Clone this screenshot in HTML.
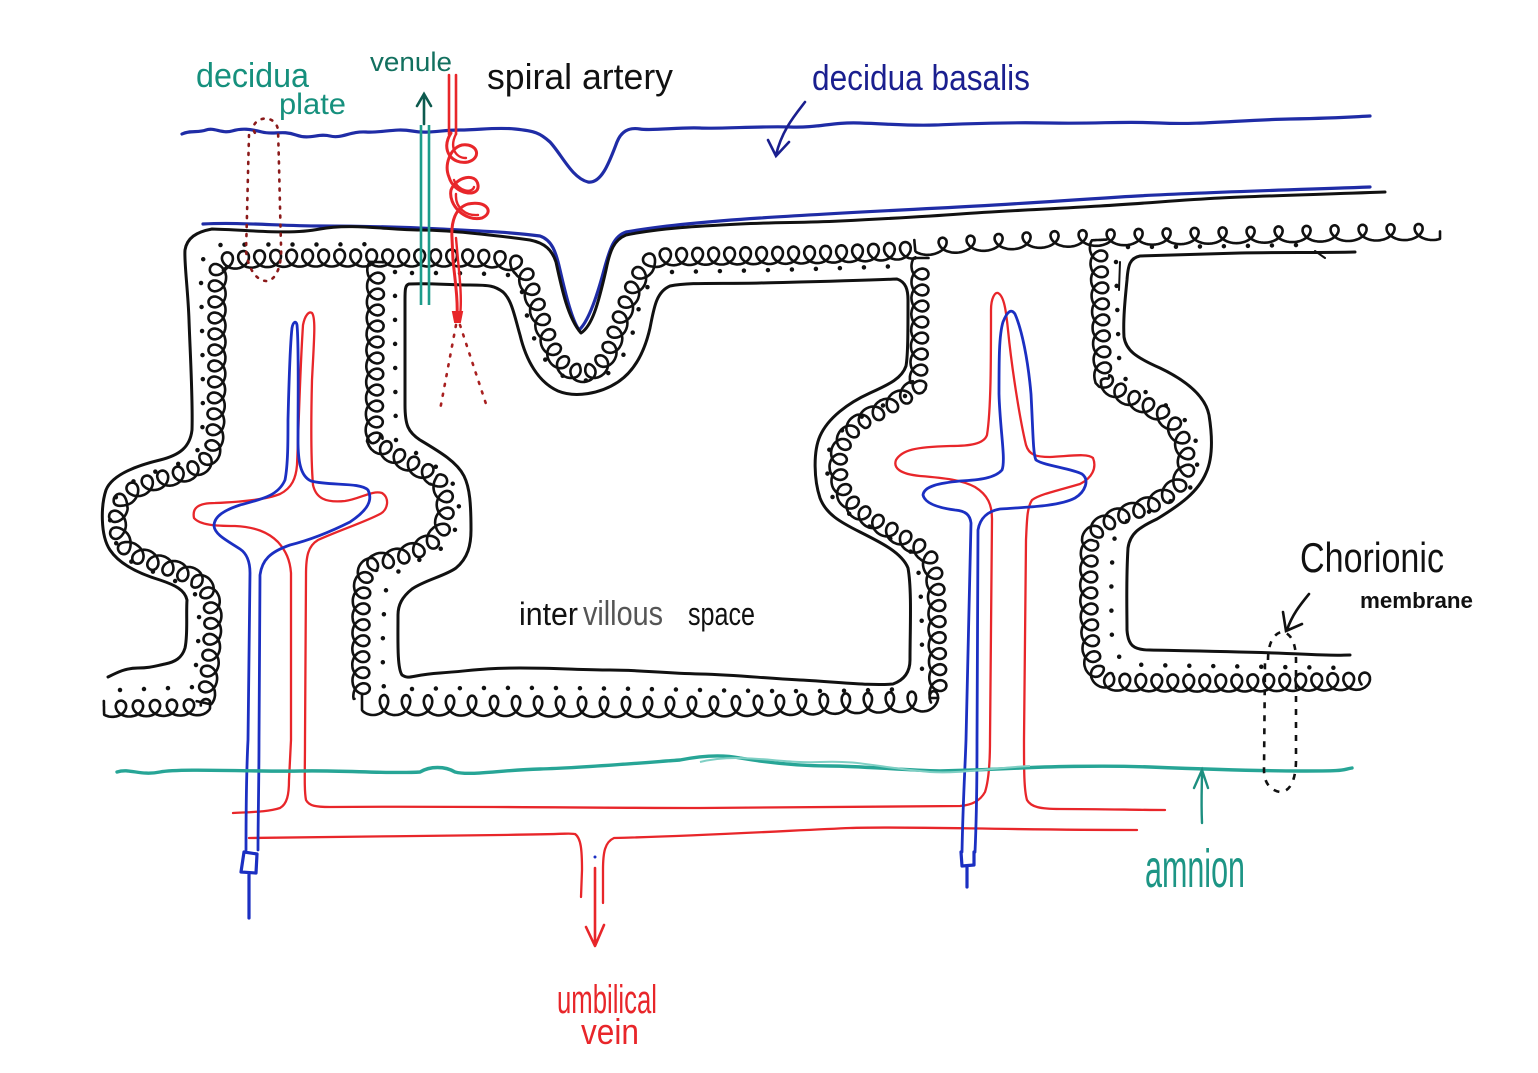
<!DOCTYPE html>
<html><head><meta charset="utf-8">
<style>
html,body{margin:0;padding:0;background:#fff;overflow:hidden}
svg{display:block}
.k{fill:none;stroke:#111;stroke-width:3;stroke-linecap:round;stroke-linejoin:round}
.b{fill:none;stroke:#1f2ca6;stroke-width:3.2;stroke-linecap:round;stroke-linejoin:round}
.r{fill:none;stroke:#e8262a;stroke-width:2.3;stroke-linecap:round;stroke-linejoin:round}
.v{fill:none;stroke:#1b2fc2;stroke-width:2.8;stroke-linecap:round;stroke-linejoin:round}
.dt{fill:none;stroke:#111;stroke-width:4.5;stroke-linecap:round;stroke-dasharray:0 24}
.lb{fill:none;stroke:#333;stroke-width:7;stroke-dasharray:4 5}
.lp{fill:none;stroke:#111;stroke-width:2.6;stroke-linejoin:round;stroke-linecap:round}
text{font-family:"Liberation Sans Narrow","Liberation Sans",sans-serif}
</style></head>
<body>
<svg id="s" width="1538" height="1073" viewBox="0 0 1538 1073" xmlns="http://www.w3.org/2000/svg">
<rect width="1538" height="1073" fill="#fff"/>

<!-- decidua basalis top line -->
<path class="b" d="M182,134 C190,130 198,133 206,130 S222,134 232,131 S250,129 262,132 S282,130 296,135 S318,133 330,136 S350,131 366,132 S395,128 412,131 S440,130 460,130 S495,127 515,129 S540,133 550,142 C562,155 572,178 588,182 C602,184 610,160 617,142 C621,132 628,127 640,129 S680,127 700,128 S760,126 790,127 S830,122 860,123 S910,126 935,125 S1000,122 1050,123 S1120,121 1160,123 S1240,120 1290,119 S1350,117 1370,116"/>
<!-- lower blue line -->
<path class="b" d="M203,224 C240,222 280,226 320,226 S400,227 440,229 S510,232 540,236 C552,240 556,252 560,270 C566,296 572,320 579,330 C588,322 596,300 604,270 C610,248 614,236 626,232 C660,226 700,222 760,218 S880,211 940,208 S1060,201 1120,197 S1260,191 1370,187"/>

<!-- outer black line -->
<path class="k" d="M108,677 C118,672 126,668 138,668 S155,666 165,664 S182,658 185,648 C188,635 186,615 187,600 C185,590 175,585 160,580 C140,574 120,565 110,550 C100,535 101,505 106,490 C112,475 135,466 160,460 C180,455 190,447 192,430 C193,400 190,350 189,320 C188,290 184,262 185,250 C187,238 196,232 212,229 C250,230 290,235 320,229 S390,230 420,230 S500,236 530,240 C545,243 552,250 556,262 C562,290 568,318 581,333 C592,326 598,305 606,270 C610,250 614,240 626,235 C660,228 700,226 740,224 S800,223 840,221 S920,217 960,214 S1050,209 1100,206 S1180,200 1220,198 S1300,195 1385,192"/>

<!-- intervillous space 1 -->
<path class="k" d="M409,284 C430,283 450,285 470,285 S495,286 503,292 C512,300 515,318 520,335 C526,360 538,382 558,391 C575,398 600,394 618,382 C636,370 645,350 650,328 C654,308 656,292 670,286 C690,282 720,284 760,283 S850,281 897,279 C906,282 908,290 908,300 C908,330 908,355 906,366 C902,378 890,384 870,393 C848,403 828,418 820,436 C813,452 814,480 820,498 C826,514 840,522 860,532 C882,543 902,553 908,568 C912,590 910,630 910,660 C910,672 904,680 893,684 C870,686 840,682 800,680 S740,675 700,674 S640,670 610,670 S560,668 520,668 S470,671 440,673 S410,680 402,675 C397,668 398,640 398,615 C398,605 402,597 412,589 C425,580 445,576 456,568 C468,558 471,545 471,530 C471,505 470,488 464,476 C457,462 440,452 420,440 C408,432 405,425 405,405 C405,370 405,330 405,300 C405,290 405,285 409,284 Z"/>

<!-- intervillous space 2 -->
<path class="k" d="M1355,252 C1320,253 1280,252 1240,253 S1170,255 1140,256 C1130,258 1128,265 1127,280 C1125,300 1123,320 1124,337 C1126,350 1135,357 1160,368 C1185,380 1205,395 1209,415 C1213,440 1212,460 1206,473 C1198,492 1180,505 1157,519 C1140,527 1130,533 1128,548 C1126,580 1127,610 1127,630 C1128,645 1133,650 1150,650 C1200,651 1260,652 1300,654 S1340,655 1350,655"/>
<path class="k" d="M1315,251 L1325,258 M1120,262 L1119,290" style="stroke-width:2"/>

<!-- loop bases -->
<g id="lbases">
<path class="lb" d="M205,703 C208,690 212,650 213,620 C213,600 210,588 195,578 C175,568 150,562 132,552 C118,542 114,525 120,505 C126,490 150,482 175,476 C198,470 210,462 214,445 C217,420 217,360 217,320 C217,290 217,270 220,262 C240,258 300,258 340,258 S420,258 460,258 S510,260 522,268 C530,285 536,305 545,330 C552,352 560,368 578,373 C594,376 604,365 612,345 C620,320 628,298 640,275 C646,264 652,258 665,257 C700,256 750,256 800,255 S880,252 915,250"/>
<path class="lb" d="M376,262 C375,300 375,380 374,440 C388,455 418,466 436,478 C448,492 448,520 438,535 C423,550 398,558 373,563 C362,570 361,590 361,620 C361,650 360,680 362,698"/>
<path class="lb" d="M362,705 C450,705 550,707 650,707 S850,703 940,701"/>
<path class="lb" d="M104,709 L210,707"/>
<path class="lb" d="M920,258 C920,300 920,350 918,385 C905,398 880,410 860,422 C844,435 838,450 838,465 C838,485 845,500 860,512 C880,526 905,538 925,552 C935,565 937,590 937,620 C937,650 938,680 938,698"/>
<path class="lb" d="M1098,240 C1100,280 1101,340 1103,380 C1115,392 1140,402 1162,414 C1180,428 1188,450 1186,468 C1182,488 1160,502 1136,510 C1115,517 1095,525 1090,540 C1088,570 1088,620 1092,660 C1094,672 1100,680 1112,682 C1180,684 1280,683 1370,681"/>
<path class="lb" d="M915,248 C960,244 1010,241 1060,239 S1200,236 1300,234 S1400,232 1440,232"/>
</g>
<g id="loops" class="lp"></g>

<!-- dots -->
<path class="dt" d="M196,665 C199,640 200,610 198,598 C190,585 160,574 140,567 C122,558 110,540 110,515 C112,492 130,480 160,470 C185,463 200,455 202,438 C204,400 202,330 201,280 C201,258 205,247 220,245 C260,244 320,245 380,244"/>
<path class="dt" d="M412,273 C440,273 480,273 508,275"/>
<path class="dt" d="M522,292 C527,320 534,345 547,362 C560,380 580,384 600,378 C618,370 628,350 635,325 C640,300 645,285 660,273"/>
<path class="dt" d="M672,272 C720,271 800,270 900,266"/>
<path class="dt" d="M905,396 C880,406 850,420 832,440 C825,460 826,485 834,500 C850,520 890,535 915,555 C922,580 922,620 922,670"/>
<path class="dt" d="M395,272 C395,320 395,380 396,440 C412,452 442,465 457,490 C462,515 457,535 442,548 C422,560 397,568 387,582 C382,620 382,660 384,690"/>
<path class="dt" d="M412,689 C500,687 600,688 700,690 S850,691 905,689"/>
<path class="dt" d="M1116,262 C1117,300 1118,340 1120,375 C1140,390 1170,405 1190,425 C1200,445 1200,470 1190,488 C1170,505 1140,515 1118,525 C1110,545 1111,600 1112,640 C1114,658 1125,664 1145,665 C1200,666 1280,667 1350,668"/>
<path class="dt" d="M1128,247 C1180,247 1240,246 1300,245"/>
<path class="dt" d="M120,690 L196,687"/>

<!-- red vessels -->
<path class="r" d="M233,813 C250,812 268,812 280,808 C287,804 289,795 289,780 L291,740 C291,680 291,600 291,573 C290,560 286,551 278,542 C268,532 255,527 235,526 C215,526 200,525 194,518 C192,508 198,503 215,503 C240,502 265,500 280,494 C292,488 296,478 297,465 C299,420 300,370 303,325 C305,315 309,311 312,313 C316,318 314,340 312,380 C311,420 311,460 313,485 C316,498 325,503 345,501 C360,499 372,490 382,493 C390,498 388,510 380,514 C365,522 340,530 318,540 C308,546 306,556 306,575 L305,740 C305,770 304,790 306,800 C309,806 316,807 330,807 C450,806 600,808 700,808 S900,807 960,806 C972,805 980,801 985,792 C989,780 990,760 990,740 L992,519 C992,505 988,495 975,487 C962,480 945,478 920,476 C900,474 893,468 896,460 C902,450 915,447 950,446 C970,446 984,444 987,435 C991,410 991,360 991,310 C991,298 995,292 998,293 C1004,296 1006,310 1008,330 C1012,370 1020,420 1026,445 C1029,455 1036,457 1050,457 C1070,456 1088,453 1093,458 C1097,468 1092,478 1080,484 C1060,490 1040,494 1032,500 C1027,508 1027,519 1026,540 L1024,740 C1024,770 1024,790 1027,800 C1031,807 1040,809 1060,809 C1100,809 1140,810 1165,810"/>
<path class="r" d="M249,838 C320,837 420,836 500,835 S565,833 575,834 C581,838 582,850 582,870 L581,897 M603,903 L603,870 C603,852 605,842 614,838 C700,836 800,830 850,828 S1000,830 1137,830"/>
<path class="r" d="M595,868 L595,945 M586,927 L595,946 L604,925" style="stroke-width:2.6"/>
<circle cx="595" cy="857" r="1.5" fill="#1b2fc2"/>

<!-- blue vessels -->
<path class="v" d="M246,850 C246,800 247,760 248,740 L250,573 C250,560 246,553 240,549 C228,541 215,535 214,526 C214,516 225,510 240,505 C262,499 278,496 285,480 C288,465 288,440 288,420 C289,380 290,345 292,328 C293,322 296,320 297,325 C299,345 298,400 298,440 C298,460 300,476 311,481 C330,486 360,482 368,490 C373,500 368,510 350,522 C330,532 310,540 290,545 C270,552 262,560 260,575 L259,740 C259,780 258,820 258,850"/>
<path class="v" d="M244,852 L241,872 L256,873 L257,854 Z M249,873 L249,918" style="stroke-width:3.2"/>
<path class="v" d="M962,852 C963,800 965,770 966,740 L971,523 C970,515 966,511 955,510 C940,508 925,504 923,495 C924,486 940,483 960,481 C980,480 995,478 1002,470 C1006,460 1000,430 999,394 C999,360 999,335 1003,322 C1007,312 1011,308 1015,314 C1022,330 1028,360 1031,394 C1033,430 1033,455 1036,460 C1045,466 1070,468 1082,474 C1090,480 1085,492 1075,498 C1060,506 1030,507 1000,509 C988,511 980,518 978,530 L977,740 C977,790 976,830 975,852"/>
<path class="v" d="M961,852 L962,866 L974,865 L974,852 M967,866 L967,887" style="stroke-width:3.2"/>

<!-- amnion -->
<path fill="none" stroke="#27a596" stroke-width="3.4" stroke-linecap="round" d="M117,772 C130,768 140,776 160,772 S260,772 300,771 S390,774 420,772 C430,766 445,766 455,772 C470,776 500,770 540,769 S640,763 680,760 C700,756 720,754 740,758 C770,763 800,766 830,766 S900,770 940,771 C980,770 1000,769 1020,768 S1100,765 1150,767 S1250,771 1300,771 S1340,770 1352,768"/>
<path fill="none" stroke="#7fcfc4" stroke-width="2" d="M700,762 C740,752 780,764 820,762 S880,768 930,772 C960,774 990,768 1030,766"/>
<path fill="none" stroke="#1d8f80" stroke-width="2.4" stroke-linecap="round" d="M1202,823 C1201,800 1202,785 1202,771 M1194,788 L1202,770 L1208,788"/>

<!-- decidua basalis arrow -->
<path fill="none" stroke="#1a1f8f" stroke-width="2.6" stroke-linecap="round" d="M805,102 C795,115 782,130 776,155 M768,140 L776,156 L789,142"/>
<!-- chorionic arrow -->
<path fill="none" stroke="#111" stroke-width="2.6" stroke-linecap="round" d="M1309,594 C1300,605 1292,615 1287,630 M1283,612 L1286,631 L1302,624"/>

<!-- venule -->
<path fill="none" stroke="#1e9c8b" stroke-width="2.6" d="M421,125 L421,305 M429,125 L429,305"/>
<path fill="none" stroke="#0d5a4e" stroke-width="2.6" stroke-linecap="round" d="M424,124 L424,94 M417,106 L424,94 L431,106"/>

<!-- spiral artery -->
<path class="r" style="stroke-width:2.6" d="M449,75 L449,134 M456,75 L456,134"/>
<path class="r" style="stroke-width:3" d="M451,133 C440,150 452,165 468,162 C482,158 478,143 462,145 C450,148 444,165 449,177 C454,195 480,198 478,185 C476,172 456,177 451,190 C448,205 465,222 482,218 C495,212 486,200 468,204 C455,208 451,222 452,238 L453,260 C455,280 458,300 457,316"/>
<path class="r" style="stroke-width:2.4" d="M456,134 C449,148 456,158 466,158 M454,180 C458,191 472,194 474,187 M456,194 C455,208 466,216 478,215 M456,238 L458,260 C460,280 462,300 460,316"/>
<path fill="#e8262a" stroke="#e8262a" stroke-width="2" d="M453,312 L462,312 L460,322 L455,322 Z"/>
<path fill="none" stroke="#a82020" stroke-width="2.6" stroke-linecap="round" stroke-dasharray="2 8" d="M456,325 L440,410 M460,325 L488,410"/>

<!-- decidua plate dotted -->
<path fill="none" stroke="#8b1a1a" stroke-width="2.6" stroke-linecap="round" stroke-dasharray="2 7" d="M249,135 C248,170 247,220 246,250 C247,265 255,282 268,281 C278,278 282,262 281,245 C280,210 279,160 278,130 C277,122 270,117 262,119 C255,121 251,127 255,133"/>

<!-- chorionic membrane dashed -->
<path fill="none" stroke="#111" stroke-width="2.6" stroke-dasharray="6 7" d="M1268,660 C1268,640 1276,632 1283,632 C1292,634 1296,645 1296,660 L1296,760 C1296,780 1290,792 1280,792 C1268,790 1264,780 1264,770 L1265,660"/>

<!-- labels -->
<text x="196" y="87" font-size="34" fill="#16907d" textLength="113" lengthAdjust="spacingAndGlyphs">decidua</text>
<text x="279" y="114" font-size="30" fill="#16907d" textLength="67" lengthAdjust="spacingAndGlyphs">plate</text>
<text x="370" y="71" font-size="27" fill="#12705f" textLength="82" lengthAdjust="spacingAndGlyphs">venule</text>
<text x="487" y="89" font-size="36" fill="#111" textLength="186" lengthAdjust="spacingAndGlyphs">spiral artery</text>
<text x="812" y="90" font-size="36" fill="#1a1f8f" textLength="218" lengthAdjust="spacingAndGlyphs">decidua basalis</text>
<text x="1300" y="572" font-size="42" fill="#111" textLength="144" lengthAdjust="spacingAndGlyphs">Chorionic</text>
<text x="1360" y="608" font-size="22" font-weight="bold" fill="#111" textLength="113" lengthAdjust="spacingAndGlyphs">membrane</text>
<text x="1145" y="887" font-size="54" fill="#1d9585" textLength="100" lengthAdjust="spacingAndGlyphs">amnion</text>
<text x="557" y="1013" font-size="40" fill="#e8262a" textLength="100" lengthAdjust="spacingAndGlyphs">umbilical</text>
<text x="581" y="1044" font-size="36" fill="#e8262a" textLength="58" lengthAdjust="spacingAndGlyphs">vein</text>
<text x="519" y="625" font-size="32" fill="#111" textLength="59" lengthAdjust="spacingAndGlyphs">inter</text>
<text x="583" y="625" font-size="34" fill="#555" textLength="80" lengthAdjust="spacingAndGlyphs">villous</text>
<text x="688" y="625" font-size="32" fill="#111" textLength="67" lengthAdjust="spacingAndGlyphs">space</text>
</svg>
<script>
(function(){
  var ns='http://www.w3.org/2000/svg';
  var g=document.getElementById('loops');
  var bases=document.querySelectorAll('#lbases .lb');
  var prm=[[16,8.5,9],[16,8.5,9],[22,10,9],[17,8,9],[16,8.5,9],[16,8.5,9],[28,8,10]];
  for(var i=0;i<bases.length;i++){
    var p=bases[i], q=prm[i]||[16,8.5,9];
    var L=p.getTotalLength(), a=q[0]/(2*Math.PI), amp=q[1], c=q[2];
    var d='';
    for(var t=0;;t+=0.14){
      var u=a*t; if(u>L) break;
      var s=u-c*Math.sin(t);
      if(s<0)s=0; if(s>L)s=L;
      var P=p.getPointAtLength(s),A=p.getPointAtLength(Math.max(0,s-1)),B=p.getPointAtLength(Math.min(L,s+1));
      var tx=B.x-A.x,ty=B.y-A.y,n=Math.sqrt(tx*tx+ty*ty)||1;tx/=n;ty/=n;
      var off=-amp*Math.cos(t);
      var x=P.x-ty*off,y=P.y+tx*off;
      d+=(d?'L':'M')+x.toFixed(1)+','+y.toFixed(1);
    }
    var np=document.createElementNS(ns,'path');
    np.setAttribute('d',d);
    g.appendChild(np);
    p.style.stroke='none';
  }
})();
</script>
</body></html>
